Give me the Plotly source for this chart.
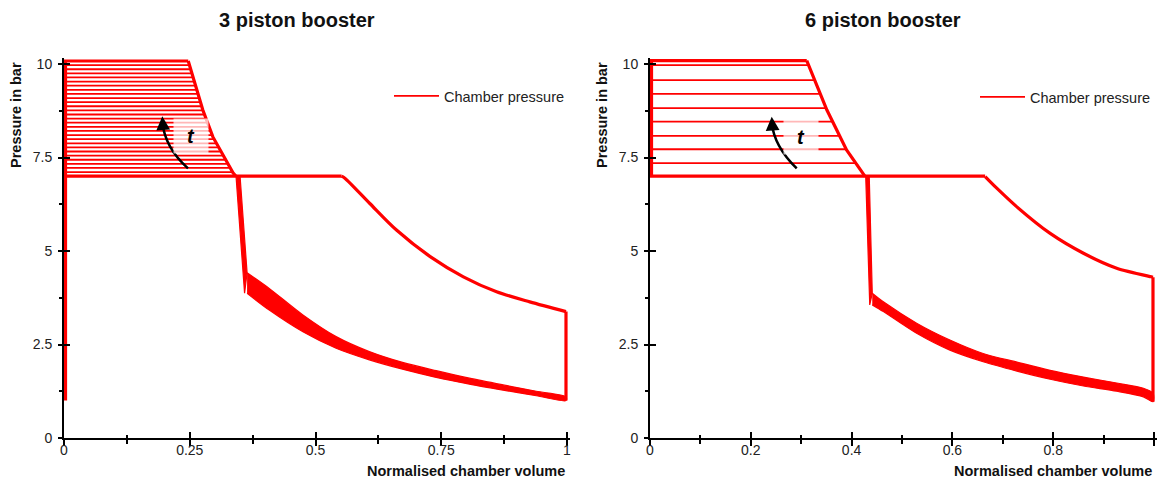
import plotly.graph_objects as go

# ---------------- data ----------------
# 3 piston booster (left)
L_top_p = 10.08
L_top_xend = 0.247
L_levels = [9.97, 9.86, 9.75, 9.64, 9.53, 9.42, 9.31, 9.20, 9.09, 8.98, 8.87, 8.76, 8.65, 8.54,
            8.43, 8.32, 8.21, 8.10, 7.99, 7.88, 7.77, 7.66, 7.55, 7.44, 7.33, 7.22, 7.11]
L_level_xend = [0.249, 0.252, 0.254, 0.257, 0.259, 0.262, 0.264, 0.266, 0.269, 0.271, 0.274, 0.276,
                0.279, 0.282, 0.285, 0.288, 0.291, 0.295, 0.299, 0.303, 0.308, 0.313, 0.318, 0.323,
                0.328, 0.332, 0.337]
L_base_p = 7.0
L_slant_x = [0.247, 0.276, 0.296, 0.336, 0.342]
L_slant_p = [10.08, 8.77, 8.05, 7.09, 7.0]
L_comp_x = [0.552, 0.559, 0.608, 0.661, 0.728, 0.794, 0.860, 0.926, 0.998]
L_comp_p = [7.0, 6.94, 6.27, 5.56, 4.85, 4.31, 3.91, 3.64, 3.38]
L_drop_top_x = [0.342, 0.350]
L_exp_x = [0.364, 0.408, 0.475, 0.541, 0.607, 0.673, 0.740, 0.806, 0.873, 0.939, 0.998]
L_exp_hi = [4.42, 4.00, 3.29, 2.71, 2.31, 2.02, 1.80, 1.60, 1.42, 1.25, 1.10]
L_exp_lo = [3.87, 3.42, 2.84, 2.40, 2.09, 1.84, 1.62, 1.44, 1.28, 1.13, 1.00]
L_wall_x = 0.003
L_wall_low = 1.0

# 6 piston booster (right)
R_top_p = 10.09
R_top_xend = 0.311
R_levels = [9.97, 9.57, 9.20, 8.82, 8.46, 8.08, 7.72, 7.35]
R_level_xend = [0.315, 0.327, 0.338, 0.350, 0.362, 0.376, 0.389, 0.408]
R_base_p = 7.0
R_slant_x = [0.311, 0.351, 0.390, 0.427]
R_slant_p = [10.09, 8.77, 7.70, 6.99]
R_comp_x = [0.665, 0.688, 0.728, 0.794, 0.860, 0.926, 0.995, 0.998]
R_comp_p = [6.99, 6.68, 6.18, 5.47, 4.94, 4.54, 4.31, 4.30]
R_drop_top_x = [0.428, 0.435]
R_exp_x = [0.441, 0.463, 0.529, 0.595, 0.661, 0.728, 0.794, 0.860, 0.926, 0.979, 0.998]
R_exp_hi = [3.87, 3.64, 3.07, 2.62, 2.26, 2.03, 1.81, 1.63, 1.47, 1.33, 1.20]
R_exp_lo = [3.56, 3.38, 2.80, 2.35, 2.04, 1.79, 1.57, 1.39, 1.25, 1.10, 0.97]
R_wall_x = 0.003
R_wall_low = 7.0

# ticks / labels
y_tick_vals = [0, 2.5, 5, 7.5, 10]
y_tick_text = ["0", "2.5", "5", "7.5", "10"]
y_minor_vals = [1.25, 3.75, 6.25, 8.75]
L_x_tick_vals = [0, 0.25, 0.5, 0.75, 1]
L_x_tick_text = ["0", "0.25", "0.5", "0.75", "1"]
L_x_minor_vals = [0.125, 0.375, 0.625, 0.875]
R_x_tick_vals = [0, 0.2, 0.4, 0.6, 0.8, 1]
R_x_tick_text = ["0", "0.2", "0.4", "0.6", "0.8", "1"]
R_x_minor_vals = [0.1, 0.3, 0.5, 0.7, 0.9]

titles = ["3 piston booster", "6 piston booster"]
legend_name = "Chamber pressure"
y_title = "Pressure in bar"
x_title = "Normalised chamber volume"
t_label = "t"

RED = "#ff0000"
FONT = "Liberation Sans, Arial, sans-serif"
W, H = 1158, 481

fig = go.Figure()


def panel(xa, ya, top_p, top_xend, levels, level_xend, base_p, slant_x, slant_p,
          comp_x, comp_p, drop_top_x, exp_x, exp_hi, exp_lo, wall_x, wall_low, legend):
    common = dict(xaxis=xa, yaxis=ya, hoverinfo="skip")
    # plateau lines of successive cycles
    px, py = [], []
    for p, xe in zip(levels, level_xend):
        px += [0, xe, None]
        py += [p, p, None]
    fig.add_trace(go.Scatter(x=px, y=py, mode="lines", line=dict(color=RED, width=1.8),
                             name=legend_name, showlegend=True, legend=legend, **common))
    # expansion band (envelope of all cycles), smooth edges
    bx = exp_x + exp_x[::-1]
    by = exp_hi + exp_lo[::-1]
    fig.add_trace(go.Scatter(x=bx, y=by, mode="lines", fill="toself", fillcolor=RED,
                             line=dict(color=RED, width=1.2, shape="spline", smoothing=0.8),
                             showlegend=False, **common))
    # drop from delivery pressure to the start of the expansion band
    dx = [drop_top_x[0], drop_top_x[1], exp_x[0], exp_x[0] - 0.005, drop_top_x[0]]
    dy = [base_p, base_p, exp_hi[0], exp_lo[0], base_p]
    fig.add_trace(go.Scatter(x=dx, y=dy, mode="lines", fill="toself", fillcolor=RED,
                             line=dict(color=RED, width=1.2), showlegend=False, **common))
    # straight outline parts
    ox = [wall_x, wall_x, None, 0, top_xend, None] + slant_x + [None, 0, comp_x[0], None,
                                                               comp_x[-1], comp_x[-1]]
    oy = [wall_low, top_p, None, top_p, top_p, None] + slant_p + [None, base_p, base_p, None,
                                                                 comp_p[-1], exp_lo[-1]]
    fig.add_trace(go.Scatter(x=ox, y=oy, mode="lines", line=dict(color=RED, width=3.2),
                             showlegend=False, **common))
    # compression curve (smooth)
    fig.add_trace(go.Scatter(x=comp_x, y=comp_p, mode="lines",
                             line=dict(color=RED, width=3.2, shape="spline", smoothing=0.8),
                             showlegend=False, **common))


panel("x", "y", L_top_p, L_top_xend, L_levels, L_level_xend, L_base_p, L_slant_x, L_slant_p,
      L_comp_x, L_comp_p, L_drop_top_x, L_exp_x, L_exp_hi, L_exp_lo, L_wall_x, L_wall_low, "legend")
panel("x2", "y2", R_top_p, R_top_xend, R_levels, R_level_xend, R_base_p, R_slant_x, R_slant_p,
      R_comp_x, R_comp_p, R_drop_top_x, R_exp_x, R_exp_hi, R_exp_lo, R_wall_x, R_wall_low, "legend2")

# dummy traces so that overlay axes (inner half of crossing ticks) are drawn
for xa, ya in (("x3", "y3"), ("x4", "y4")):
    fig.add_trace(go.Scatter(x=[None], y=[None], xaxis=xa, yaxis=ya, showlegend=False,
                             hoverinfo="skip"))

# geometry (pixels -> paper)
x0_px = [64, 650]
unit_px = [503, 504]
xr = [0, 1.005]
y_bot_px, y_top_px = 438, 58
yr = [0, (y_bot_px - y_top_px) / 37.4]
ydom = [1 - y_bot_px / H, 1 - y_top_px / H]
xdoms = [[x0_px[i] / W, (x0_px[i] + unit_px[i] * xr[1]) / W] for i in range(2)]

tickfont = dict(family=FONT, size=14, color="#222222")
common_x = dict(range=xr, showgrid=False, zeroline=False, showline=True, linecolor="black",
                linewidth=2, ticks="outside", ticklen=6, tickwidth=1.5, tickcolor="black",
                tickfont=tickfont, fixedrange=True, automargin=False, ticklabelstandoff=-8)
common_y = dict(range=yr, domain=ydom, showgrid=False, zeroline=False, showline=True,
                linecolor="black", linewidth=2, ticks="outside", ticklen=4, tickwidth=1.5,
                tickcolor="black", tickfont=tickfont, tickvals=y_tick_vals, ticktext=y_tick_text,
                minor=dict(tickvals=y_minor_vals, ticks="outside", ticklen=3, tickwidth=1.5,
                           tickcolor="black", showgrid=False),
                ticklabelstandoff=3, fixedrange=True, automargin=False)
inner_x = dict(range=xr, showgrid=False, zeroline=False, showline=False, ticks="inside",
               ticklen=6, tickwidth=1.5, tickcolor="black", showticklabels=False,
               fixedrange=True, automargin=False)
inner_y = dict(range=yr, domain=ydom, showgrid=False, zeroline=False, showline=False,
               ticks="inside", ticklen=6, tickwidth=1.5, tickcolor="black",
               tickvals=y_tick_vals, showticklabels=False, fixedrange=True, automargin=False)

fig.update_layout(
    xaxis=dict(common_x, domain=xdoms[0], anchor="y", tickvals=L_x_tick_vals,
               ticktext=L_x_tick_text,
               minor=dict(tickvals=L_x_minor_vals, ticks="outside", ticklen=4, tickwidth=1.5,
                          tickcolor="black", showgrid=False)),
    yaxis=dict(common_y, anchor="x"),
    xaxis2=dict(common_x, domain=xdoms[1], anchor="y2", tickvals=R_x_tick_vals,
                ticktext=R_x_tick_text,
                minor=dict(tickvals=R_x_minor_vals, ticks="outside", ticklen=4, tickwidth=1.5,
                           tickcolor="black", showgrid=False)),
    yaxis2=dict(common_y, anchor="x2"),
    xaxis3=dict(inner_x, domain=xdoms[0], overlaying="x", anchor="y3", tickvals=L_x_tick_vals,
                minor=dict(tickvals=L_x_minor_vals, ticks="inside", ticklen=3, tickwidth=1.5,
                           tickcolor="black", showgrid=False)),
    yaxis3=dict(inner_y, overlaying="y", anchor="x3"),
    xaxis4=dict(inner_x, domain=xdoms[1], overlaying="x2", anchor="y4", tickvals=R_x_tick_vals,
                minor=dict(tickvals=R_x_minor_vals, ticks="inside", ticklen=3, tickwidth=1.5,
                           tickcolor="black", showgrid=False)),
    yaxis4=dict(inner_y, overlaying="y2", anchor="x4"),
    width=W, height=H,
    margin=dict(l=0, r=0, t=0, b=0, pad=0, autoexpand=False),
    paper_bgcolor="white", plot_bgcolor="rgba(0,0,0,0)",
    font=dict(family=FONT, color="#222222"),
    legend=dict(x=389 / W, y=1 - 96 / H, xanchor="left", yanchor="middle",
                bgcolor="rgba(0,0,0,0)", font=dict(family=FONT, size=14.5, color="#222222"),
                itemwidth=45),
    legend2=dict(x=975 / W, y=1 - 97 / H, xanchor="left", yanchor="middle",
                 bgcolor="rgba(0,0,0,0)", font=dict(family=FONT, size=14.5, color="#222222"),
                 itemwidth=45),
)

annotations = []
shapes = []
title_cx = [297, 883]
ytitle_cx = [16, 602]
xtitle_right = [567, 1154]
# t label positions and curved arrows (tail, control, tip) per panel
t_pos = [(0.2525, 8.07), (0.2996, 8.05)]
arrows = [((0.2465, 7.21), (0.2008, 7.75), (0.1954, 8.60)),
          ((0.2911, 7.21), (0.2460, 7.80), (0.2415, 8.59))]
for i in range(2):
    xs = "x" if i == 0 else "x2"
    ys = "y" if i == 0 else "y2"
    annotations.append(dict(text="<b>%s</b>" % titles[i], x=title_cx[i] / W, y=1 - 20 / H,
                            xref="paper", yref="paper", xanchor="center", yanchor="middle",
                            showarrow=False,
                            font=dict(family=FONT, size=20, color="#111111")))
    annotations.append(dict(text="<b>%s</b>" % y_title, x=ytitle_cx[i] / W, y=1 - 115 / H,
                            xref="paper", yref="paper", xanchor="center", yanchor="middle",
                            showarrow=False, textangle=-90,
                            font=dict(family=FONT, size=14.5, color="#111111")))
    annotations.append(dict(text="<b>%s</b>" % x_title, x=xtitle_right[i] / W, y=1 - 471 / H,
                            xref="paper", yref="paper", xanchor="right", yanchor="middle",
                            showarrow=False,
                            font=dict(family=FONT, size=14.5, color="#111111")))
    annotations.append(dict(text="<b><i>%s</i></b>" % t_label, x=t_pos[i][0], y=t_pos[i][1],
                            xref=xs, yref=ys, xanchor="center", yanchor="middle",
                            showarrow=False, width=32, height=32,
                            bgcolor="rgba(255,255,255,0.72)",
                            font=dict(family=FONT, size=20, color="black")))
    (tx, ty), (cx, cy), (hx, hy) = arrows[i]
    shapes.append(dict(type="path", xref=xs, yref=ys,
                       path="M %f,%f Q %f,%f %f,%f" % (tx, ty, cx, cy, hx, hy - 0.15),
                       line=dict(color="black", width=2.5)))
    annotations.append(dict(text="", x=hx, y=hy, xref=xs, yref=ys, ax=hx + 0.002, ay=hy - 0.4,
                            axref=xs, ayref=ys, showarrow=True, arrowhead=2, arrowsize=1.1,
                            arrowwidth=2.5, arrowcolor="black"))

fig.update_layout(annotations=annotations, shapes=shapes)

fig.write_html("out.html", config={"displayModeBar": False},
               post_script="document.body.style.margin='0px';"
                           "document.body.style.overflow='hidden';")
